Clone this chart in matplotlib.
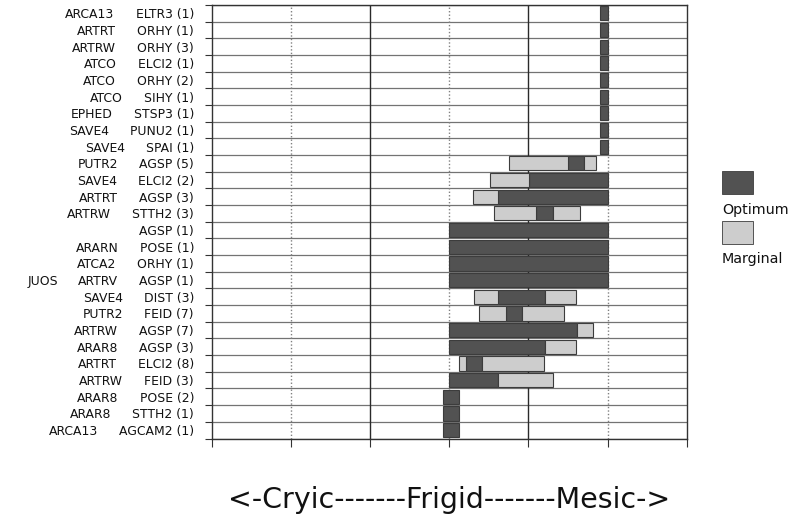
import matplotlib
matplotlib.use("Agg")
import matplotlib.pyplot as plt
import numpy as np

plt.rcParams['font.family'] = ['DejaVu Sans']

# Row labels: optional group code, site type, species (plots)
group = [""] * 16 + ["JUOS"] + [""] * 9
site = ["ARCA13", "ARTRT", "ARTRW", "ATCO", "ATCO", "ATCO", "EPHED", "SAVE4",
        "SAVE4", "PUTR2", "SAVE4", "ARTRT", "ARTRW", "", "ARARN", "ATCA2",
        "ARTRV", "SAVE4", "PUTR2", "ARTRW", "ARAR8", "ARTRT", "ARTRW", "ARAR8",
        "ARAR8", "ARCA13"]
species = ["ELTR3 (1)", "ORHY (1)", "ORHY (3)", "ELCI2 (1)", "ORHY (2)",
           "SIHY (1)", "STSP3 (1)", "PUNU2 (1)", "SPAI (1)", "AGSP (5)",
           "ELCI2 (2)", "AGSP (3)", "STTH2 (3)", "AGSP (1)", "POSE (1)",
           "ORHY (1)", "AGSP (1)", "DIST (3)", "FEID (7)", "AGSP (7)",
           "AGSP (3)", "ELCI2 (8)", "FEID (3)", "POSE (2)", "STTH2 (1)",
           "AGCAM2 (1)"]

# Range along the Cryic -> Mesic gradient:
# lower marginal start, optimum start, optimum end, upper marginal end
marg_lo = [4.90] * 9 + [3.76, 3.51, 3.30, 3.56, 3.00, 3.00, 3.00, 3.00,
                        3.31, 3.37, 3.00, 3.00, 3.12, 3.00, 2.92, 2.92, 2.92]
opt_lo = [4.90] * 9 + [4.50, 4.01, 3.61, 4.10, 3.00, 3.00, 3.00, 3.00,
                       3.61, 3.72, 3.00, 3.00, 3.21, 3.00, 2.92, 2.92, 2.92]
opt_hi = [5.00] * 9 + [4.70, 5.00, 5.00, 4.31, 5.00, 5.00, 5.00, 5.00,
                       4.21, 3.92, 4.61, 4.21, 3.41, 3.62, 3.12, 3.12, 3.12]
marg_hi = [5.00] * 9 + [4.85, 5.00, 5.00, 4.65, 5.00, 5.00, 5.00, 5.00,
                        4.60, 4.45, 4.81, 4.60, 4.20, 4.31, 3.12, 3.12, 3.12]

DARK = "#525252"
LIGHT = "#cdcdcd"
EDGE = "#3c3c3c"

W, H = 795, 517
fig = plt.figure(figsize=(W / 100, H / 100), dpi=100)
ax = fig.add_axes([212 / W, 1 - 438.5 / H, (686.7 - 212) / W, (438.5 - 5) / H])

n = len(species)
y = np.arange(n)
mlo, olo, ohi, mhi = (np.array(a) for a in (marg_lo, opt_lo, opt_hi, marg_hi))
bh = 0.85

# vertical reference lines
for xv in (2, 4):
    ax.axvline(xv, color="#2a2a2a", lw=1.0, zorder=1)
for xv in (1, 3, 5):
    ax.axvline(xv, color="#808080", lw=1.0, ls=(0, (1, 1.5)), zorder=1)

# optimum ranges
ax.barh(y, ohi - olo, left=olo, height=bh, color=DARK, edgecolor=EDGE,
        linewidth=0.8, zorder=3)
# lower and upper marginal ranges
lo_mask = (olo - mlo) > 0
ax.barh(y[lo_mask], (olo - mlo)[lo_mask], left=mlo[lo_mask], height=bh,
        color=LIGHT, edgecolor=EDGE, linewidth=0.8, zorder=3)
hi_mask = (mhi - ohi) > 0
ax.barh(y[hi_mask], (mhi - ohi)[hi_mask], left=ohi[hi_mask], height=bh,
        color=LIGHT, edgecolor=EDGE, linewidth=0.8, zorder=3)

ax.set_xlim(0, 6)
ax.set_ylim(n - 0.5, -0.5)
ax.set_xticks(np.arange(0, 7))
ax.set_yticks(np.arange(-0.5, n, 1.0))
ax.set_xticklabels([])
ax.set_yticklabels([])
ax.tick_params(axis="x", length=6, color="#333333", direction="out")
ax.tick_params(axis="y", length=5, color="#333333", direction="out")
ax.yaxis.grid(True, color="#737373", lw=0.9)
ax.set_axisbelow(True)
for sp in ax.spines.values():
    sp.set_color("#333333")
    sp.set_linewidth(1.0)

# multi-column row labels
trans = ax.get_yaxis_transform()
for i in range(n):
    t_sp = ax.annotate(species[i], xy=(0, i), xycoords=trans,
                       xytext=(-18, -1.5), textcoords="offset pixels",
                       ha="right", va="center", fontsize=8.9, color="#111111")
    if site[i]:
        t_si = ax.annotate(site[i], xy=(0, 0.5), xycoords=t_sp,
                           xytext=(-21, 0), textcoords="offset pixels",
                           ha="right", va="center", fontsize=8.9, color="#111111")
        if group[i]:
            ax.annotate(group[i], xy=(0, 0.5), xycoords=t_si,
                        xytext=(-20, 0), textcoords="offset pixels",
                        ha="right", va="center", fontsize=8.9, color="#111111")

# legend
def fig_rect(x0, y0, x1, y1, fc):
    fig.patches.append(plt.Rectangle((x0 / W, 1 - y1 / H), (x1 - x0) / W,
                                     (y1 - y0) / H, transform=fig.transFigure,
                                     facecolor=fc, edgecolor=EDGE, lw=0.6))

fig_rect(722, 171, 753, 194, DARK)
fig.text(722 / W, 1 - 210 / H, "Optimum", ha="left", va="center",
         fontsize=10.3, color="#111111")
fig_rect(722, 221, 753, 244, LIGHT)
fig.text(722 / W, 1 - 259 / H, "Marginal", ha="left", va="center",
         fontsize=10.3, color="#111111")

fig.text(449 / W, 1 - 500 / H, "<-Cryic-------Frigid-------Mesic->",
         ha="center", va="center", fontsize=20.5, color="#111111")

fig.savefig("out.png", dpi=100)
